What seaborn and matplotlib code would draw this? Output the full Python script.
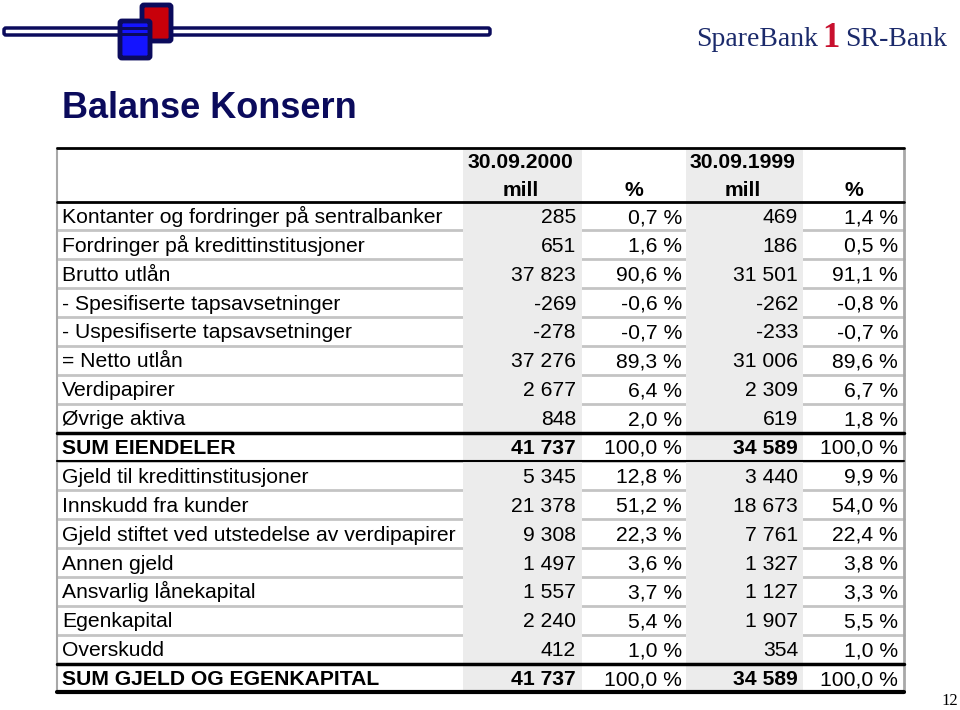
import matplotlib
matplotlib.use("Agg")
import matplotlib.pyplot as plt
from matplotlib.patches import FancyBboxPatch, Rectangle
import seaborn as sns
import pandas as pd

# table data
labels = ["Kontanter og fordringer på sentralbanker", "Fordringer på kredittinstitusjoner",
          "Brutto utlån", "- Spesifiserte tapsavsetninger", "- Uspesifiserte tapsavsetninger",
          "= Netto utlån", "Verdipapirer", "Øvrige aktiva", "SUM EIENDELER",
          "Gjeld til kredittinstitusjoner", "Innskudd fra kunder",
          "Gjeld stiftet ved utstedelse av verdipapirer", "Annen gjeld",
          "Ansvarlig lånekapital", "Egenkapital", "Overskudd", "SUM GJELD OG EGENKAPITAL"]
mill_2000 = [285, 651, 37823, -269, -278, 37276, 2677, 848, 41737,
             5345, 21378, 9308, 1497, 1557, 2240, 412, 41737]
pct_2000 = [0.7, 1.6, 90.6, -0.6, -0.7, 89.3, 6.4, 2.0, 100.0,
            12.8, 51.2, 22.3, 3.6, 3.7, 5.4, 1.0, 100.0]
mill_1999 = [469, 186, 31501, -262, -233, 31006, 2309, 619, 34589,
             3440, 18673, 7761, 1327, 1127, 1907, 354, 34589]
pct_1999 = [1.4, 0.5, 91.1, -0.8, -0.7, 89.6, 6.7, 1.8, 100.0,
            9.9, 54.0, 22.4, 3.8, 3.3, 5.5, 1.0, 100.0]
bold_rows = ["SUM EIENDELER", "SUM GJELD OG EGENKAPITAL"]
dates = ["30.09.2000", "30.09.1999"]

df = pd.DataFrame({"label": labels, "m00": mill_2000, "p00": pct_2000,
                   "m99": mill_1999, "p99": pct_1999})


def fmt_mill(v):
    return f"{v:,}".replace(",", " ")


def fmt_pct(v):
    return f"{v:.1f}".replace(".", ",") + " %"


sns.set_theme(style="white")
plt.rcParams["font.family"] = ["Liberation Sans", "DejaVu Sans"]
plt.rcParams["text.color"] = "black"

fig = plt.figure(figsize=(9.6, 7.1), dpi=100)
ax = fig.add_axes([0, 0, 1, 1])
ax.set_xlim(0, 960)
ax.set_ylim(710, 0)
ax.axis("off")

navy = "#0b0b5c"

# header decoration
ax.add_patch(FancyBboxPatch((4, 28), 486, 7, boxstyle="round,pad=0,rounding_size=2",
                            fc="white", ec=navy, lw=2.5))
ax.add_patch(FancyBboxPatch((142, 5), 29, 36, boxstyle="round,pad=0,rounding_size=2",
                            fc="#c8000a", ec=navy, lw=3.5))
ax.add_patch(FancyBboxPatch((120, 21), 30, 37, boxstyle="round,pad=0,rounding_size=2",
                            fc="#1414ff", ec=navy, lw=3.5))
ax.add_patch(Rectangle((121, 27), 28, 2.5, fc=navy, ec="none"))
ax.add_patch(Rectangle((121, 33), 28, 2.5, fc=navy, ec="none"))

ax.text(62, 118, "Balanse Konsern", fontsize=26, fontweight="bold", color=navy,
        va="baseline", ha="left")

logo_font = ["Liberation Serif", "DejaVu Serif"]
ax.text(818, 46, "SpareBank", family=logo_font, fontsize=20, color="#1b2a6b",
        ha="right", va="baseline")
ax.text(831, 47, "1", family=logo_font, fontsize=25, fontweight="bold", color="#c8102e",
        ha="center", va="baseline")
ax.text(845, 46, "SR-Bank", family=logo_font, fontsize=20, color="#1b2a6b",
        ha="left", va="baseline")
ax.text(950, 705, "12", family=logo_font, fontsize=12, color="black",
        ha="center", va="baseline")

# table geometry
left, right = 57, 904
col_edges = [57, 463, 582, 686, 803, 904]
top = 148
y0 = 216
pitch = 28.875
n = len(df)
row_y = [y0 + i * pitch for i in range(n)]
bottom = row_y[-1] + pitch / 2

# row separators (light grey)
for i in range(n - 1):
    yb = row_y[i] + pitch / 2
    ax.plot([left, right], [yb, yb], color="#c4c4c4", lw=2, zorder=1)

# shaded mill columns
for c in (1, 3):
    ax.add_patch(Rectangle((col_edges[c], top), col_edges[c + 1] - col_edges[c],
                           bottom - top, fc="#ececec", ec="none", zorder=2))

# borders
ax.plot([left, left], [top, bottom], color="#a8a8a8", lw=1.5, zorder=3)
ax.plot([right, right], [top, bottom], color="#a8a8a8", lw=2, zorder=3)
ax.plot([left, right], [top, top], color="black", lw=2, zorder=4)
ax.plot([left, right], [row_y[0] - pitch / 2] * 2, color="black", lw=2, zorder=4)
for lab in bold_rows:
    i = labels.index(lab)
    ax.plot([left, right], [row_y[i] - pitch / 2] * 2, color="black", lw=2.5, zorder=4)
    if i < n - 1:
        ax.plot([left, right], [row_y[i] + pitch / 2] * 2, color="black", lw=1.5, zorder=4)
ax.plot([left, right], [bottom, bottom], color="black", lw=3, zorder=4)

fs = 15.2
dy = 7.0  # baseline offset from row centre
# header
hy1, hy2 = 161, 189
for k, d in enumerate(dates):
    cm = (col_edges[1 + 2 * k] + col_edges[2 + 2 * k]) / 2 - 2
    cp = (col_edges[2 + 2 * k] + col_edges[3 + 2 * k]) / 2
    ax.text(cm, hy1 + dy, d, fontsize=fs, fontweight="bold", ha="center", va="baseline", zorder=5)
    ax.text(cm, hy2 + dy, "mill", fontsize=fs, fontweight="bold", ha="center", va="baseline", zorder=5)
    ax.text(cp, hy2 + dy, "%", fontsize=fs, fontweight="bold", ha="center", va="baseline", zorder=5)

for i, row in df.iterrows():
    y = row_y[i] + dy
    w = "bold" if row["label"] in bold_rows else "normal"
    ax.text(62, y, row["label"], fontsize=fs, fontweight=w,
            ha="left", va="baseline", zorder=5)
    ax.text(576, y, fmt_mill(row["m00"]), fontsize=fs, fontweight=w,
            ha="right", va="baseline", zorder=5)
    ax.text(682, y, fmt_pct(row["p00"]), fontsize=fs,
            ha="right", va="baseline", zorder=5)
    ax.text(798, y, fmt_mill(row["m99"]), fontsize=fs, fontweight=w,
            ha="right", va="baseline", zorder=5)
    ax.text(898, y, fmt_pct(row["p99"]), fontsize=fs,
            ha="right", va="baseline", zorder=5)

fig.savefig("out.png", dpi=100, facecolor="white")
